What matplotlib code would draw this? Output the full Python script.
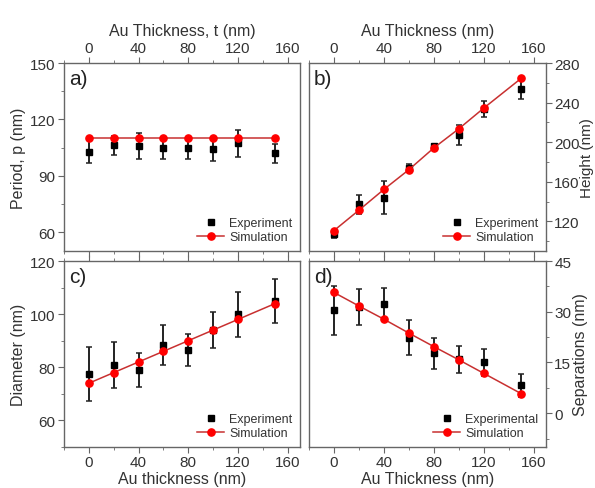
import matplotlib
matplotlib.use("Agg")
import matplotlib.pyplot as plt
from matplotlib.ticker import MultipleLocator
from matplotlib.lines import Line2D

plt.rcParams['font.family'] = ['Liberation Sans', 'DejaVu Sans']

thickness = [0, 20, 40, 60, 80, 100, 120, 150]

period_exp = [102.9, 106.3, 105.8, 104.9, 104.6, 104.2, 107.2, 101.9]
period_err = [6.0, 5.0, 7.0, 5.7, 5.5, 6.4, 7.0, 5.0]
period_sim = [110, 110, 110, 110, 110, 110, 110, 110]

height_exp = [107.2, 137.3, 144.0, 173.5, 196.5, 207.3, 233.5, 253.6]
height_err = [4.0, 9.5, 17.0, 4.0, 2.0, 10.0, 8.0, 10.0]
height_sim = [110.6, 131.2, 152.2, 172.1, 194.1, 213.4, 234.3, 264.4]

diam_exp = [77.5, 81.0, 78.8, 88.5, 86.6, 94.0, 99.9, 105.0]
diam_err = [10.0, 8.7, 6.4, 7.5, 6.1, 6.9, 8.4, 8.2]
diam_sim = [74, 78, 82, 86, 90, 94, 98, 104]

sep_exp = [30.4, 31.4, 32.3, 22.3, 17.7, 16.0, 15.1, 8.2]
sep_err = [7.3, 5.2, 4.7, 5.2, 4.5, 4.0, 4.0, 3.5]
sep_sim = [35.7, 31.7, 27.8, 23.7, 19.7, 15.8, 11.8, 5.8]

SPINE = '#666666'
TXT = '#333333'
LINE_RED = '#c83030'
MARK_RED = '#ff0000'
TICKFS = 11
LABFS = 11.5

fig = plt.figure(figsize=(5.95, 4.89), dpi=100)
W, H = 595, 489

def box(l, r, t, b):
    return [l / W, 1 - b / H, (r - l) / W, (b - t) / H]

ax_a = fig.add_axes(box(64, 300, 64, 252))
ax_b = fig.add_axes(box(309, 546, 64, 252))
ax_c = fig.add_axes(box(64, 300, 262, 448))
ax_d = fig.add_axes(box(309, 546, 262, 448))

def draw(ax, exp, err, sim, exp_label):
    ax.errorbar(thickness, exp, yerr=err, fmt='s', color='black', ms=4.5,
                ecolor='#222222', elinewidth=1.4, capsize=2.2, capthick=1.1, zorder=2)
    ax.plot(thickness, sim, '-', color=LINE_RED, lw=1.1, zorder=3)
    ax.plot(thickness, sim, 'o', color=MARK_RED, ms=5.2, zorder=4)
    handles = [Line2D([], [], ls='none', marker='s', color='black', ms=4.5),
               Line2D([], [], ls='-', color=LINE_RED, lw=1.1, marker='o',
                      markerfacecolor=MARK_RED, markeredgecolor=MARK_RED, ms=5.2)]
    ax.legend(handles, [exp_label, 'Simulation'], loc='lower right', frameon=False,
              fontsize=9, handlelength=2.2, handletextpad=0.4, labelspacing=0.2,
              borderaxespad=0.2, labelcolor=TXT)
    ax.set_xlim(-20, 170)
    ax.xaxis.set_major_locator(MultipleLocator(40))
    ax.xaxis.set_minor_locator(MultipleLocator(20))
    for s in ax.spines.values():
        s.set_color(SPINE)
        s.set_linewidth(1.0)
    ax.tick_params(which='both', direction='out', colors=SPINE, labelcolor=TXT,
                   labelsize=TICKFS, pad=2)
    ax.tick_params(which='major', length=4)
    ax.tick_params(which='minor', length=2.5)

draw(ax_a, period_exp, period_err, period_sim, 'Experiment')
draw(ax_b, height_exp, height_err, height_sim, 'Experiment')
draw(ax_c, diam_exp, diam_err, diam_sim, 'Experiment')
draw(ax_d, sep_exp, sep_err, sep_sim, 'Experimental')

# panel a
ax_a.set_ylim(50, 150)
ax_a.yaxis.set_major_locator(MultipleLocator(30))
ax_a.yaxis.set_minor_locator(MultipleLocator(15))
ax_a.tick_params(axis='x', which='both', top=True, labeltop=True, bottom=True, labelbottom=False)
ax_a.tick_params(axis='y', which='both', left=True, right=False)
ax_a.xaxis.set_label_position('top')
ax_a.set_xlabel('Au Thickness, t (nm)', fontsize=LABFS, color=TXT, labelpad=4)
ax_a.set_ylabel('Period, p (nm)', fontsize=LABFS, color=TXT, labelpad=3)

# panel b
ax_b.set_ylim(90, 280)
ax_b.yaxis.set_major_locator(MultipleLocator(40))
ax_b.yaxis.set_minor_locator(MultipleLocator(20))
ax_b.tick_params(axis='x', which='both', top=True, labeltop=True, bottom=True, labelbottom=False)
ax_b.tick_params(axis='y', which='both', left=False, labelleft=False, right=True, labelright=True)
ax_b.xaxis.set_label_position('top')
ax_b.yaxis.set_label_position('right')
ax_b.set_xlabel('Au Thickness (nm)', fontsize=LABFS, color=TXT, labelpad=4)
ax_b.set_ylabel('Height (nm)', fontsize=11, color=TXT, labelpad=0)

# panel c
ax_c.set_ylim(50, 120)
ax_c.yaxis.set_major_locator(MultipleLocator(20))
ax_c.yaxis.set_minor_locator(MultipleLocator(10))
ax_c.tick_params(axis='x', which='both', top=True, labeltop=False, bottom=True, labelbottom=True)
ax_c.tick_params(axis='y', which='both', left=True, right=False)
ax_c.set_xlabel('Au thickness (nm)', fontsize=LABFS, color=TXT, labelpad=1)
ax_c.set_ylabel('Diameter (nm)', fontsize=LABFS, color=TXT, labelpad=3)

# panel d
ax_d.set_ylim(-10, 45)
ax_d.yaxis.set_major_locator(MultipleLocator(15))
ax_d.yaxis.set_minor_locator(MultipleLocator(7.5))
ax_d.tick_params(axis='x', which='both', top=True, labeltop=False, bottom=True, labelbottom=True)
ax_d.tick_params(axis='y', which='both', left=False, labelleft=False, right=True, labelright=True)
ax_d.yaxis.set_label_position('right')
ax_d.set_xlabel('Au Thickness (nm)', fontsize=LABFS, color=TXT, labelpad=1)
ax_d.set_ylabel('Separations (nm)', fontsize=LABFS, color=TXT, labelpad=1)

for ax, lab in [(ax_a, 'a)'), (ax_b, 'b)'), (ax_c, 'c)'), (ax_d, 'd)')]:
    ax.text(0.02, 0.97, lab, transform=ax.transAxes, ha='left', va='top',
            fontsize=15, color='#222222')

fig.savefig('out.png', dpi=100)
